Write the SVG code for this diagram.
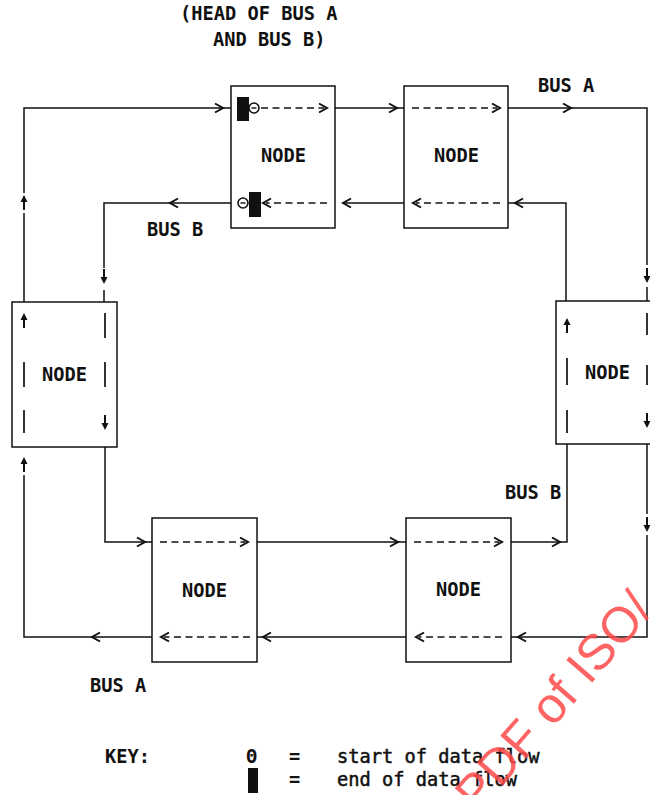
<svg xmlns="http://www.w3.org/2000/svg" xmlns:xlink="http://www.w3.org/1999/xlink" width="650" height="795" viewBox="0 0 650 795">
<style>
.box{fill:#fff;stroke:#111;stroke-width:1.5}
.ln{fill:none;stroke:#111;stroke-width:1.5}
.dash{fill:none;stroke:#111;stroke-width:1.7;stroke-dasharray:7 4.5}
.vdash{fill:none;stroke:#111;stroke-width:1.7}
.chev{fill:none;stroke:#111;stroke-width:2;stroke-linejoin:miter}
.t{font-family:"DejaVu Sans Mono","Liberation Mono",monospace;font-size:18.7px;font-weight:bold;fill:#111}
.k{font-family:"DejaVu Sans Mono","Liberation Mono",monospace;font-size:18.7px;fill:#111;stroke:#111;stroke-width:0.5}
.wm{font-family:"Liberation Sans",Arial,sans-serif;font-size:50px;fill:#ff4a4a;opacity:0.85}
</style>
<defs>
<path id="chR" class="chev" d="M-8,-4.5 L0,0 L-8,4.5"/>
<path id="chL" class="chev" d="M8,-4.5 L0,0 L8,4.5"/>
<g id="arU"><path d="M0,0 L-3.5,7 L3.5,7 Z" fill="#111"/><path d="M0,6 V15" stroke="#111" stroke-width="2"/></g>
<g id="arD"><path d="M0,0 L-3.5,-7 L3.5,-7 Z" fill="#111"/><path d="M0,-6 V-15" stroke="#111" stroke-width="2"/></g>
<g id="theta"><circle cx="0" cy="0" r="5" fill="#fff" stroke="#111" stroke-width="1.6"/><path d="M-2.5,0 H2.5" stroke="#111" stroke-width="1.4"/></g>
</defs>

<text class="t" x="180" y="20">(HEAD OF BUS A</text>
<text class="t" x="213" y="46">AND BUS B)</text>

<g id="connectors">
<!-- Bus A -->
<path class="ln" d="M24,302 V213 M24,193 V108 H237"/>
<path class="ln" d="M335,108 H404"/>
<path class="ln" d="M508,108 H647 V265"/>
<path class="ln" d="M647,287 V301"/>
<path class="ln" d="M647,444 V514 M647,535 V637 H511"/>
<path class="ln" d="M406,637 H257"/>
<path class="ln" d="M152,637 H24 V475"/>
<use xlink:href="#chR" x="223" y="108"/>
<use xlink:href="#chR" x="397" y="108"/>
<use xlink:href="#chR" x="571" y="108"/>
<use xlink:href="#chL" x="518" y="637"/>
<use xlink:href="#chL" x="263" y="637"/>
<use xlink:href="#chL" x="92" y="637"/>
<use xlink:href="#arU" x="24" y="195"/>
<use xlink:href="#arU" x="24" y="457"/>
<use xlink:href="#arD" x="647" y="283"/>
<use xlink:href="#arD" x="647" y="532"/>
<!-- Bus B -->
<path class="ln" d="M238,203 H104 V268"/>
<path class="ln" d="M104,290 V302"/>
<path class="ln" d="M105,447 V542 H152"/>
<path class="ln" d="M257,542 H406"/>
<path class="ln" d="M511,542 H567 V444"/>
<path class="ln" d="M566,301 V203 H508"/>
<path class="ln" d="M404,203 H343"/>
<use xlink:href="#chL" x="170" y="203"/>
<use xlink:href="#chL" x="343" y="203"/>
<use xlink:href="#chL" x="515" y="203"/>
<use xlink:href="#chR" x="145" y="542"/>
<use xlink:href="#chR" x="398" y="542"/>
<use xlink:href="#chR" x="560" y="542"/>
<use xlink:href="#arD" x="104" y="284"/>
</g>

<g id="node-top-left">
<rect class="box" x="231" y="86" width="104" height="142"/>
<rect x="237" y="97" width="12" height="24" fill="#111"/>
<use xlink:href="#theta" x="254" y="108"/>
<path class="dash" d="M261,108 H324"/>
<use xlink:href="#chR" x="327" y="108"/>
<path class="dash" d="M327,203 H266"/>
<use xlink:href="#chL" x="263" y="203"/>
<rect x="249" y="192" width="12" height="25" fill="#111"/>
<use xlink:href="#theta" x="243" y="203"/>
<text class="t" x="261" y="162">NODE</text>
</g>

<g id="node-top-right">
<rect class="box" x="404" y="86" width="104" height="142"/>
<path class="dash" d="M412,108 H497"/>
<use xlink:href="#chR" x="500" y="108"/>
<path class="dash" d="M500,203 H416"/>
<use xlink:href="#chL" x="413" y="203"/>
<text class="t" x="434" y="162">NODE</text>
</g>

<g id="node-left">
<rect class="box" x="12" y="302" width="105" height="145"/>
<use xlink:href="#arU" x="24" y="313"/>
<path class="vdash" d="M24,362 V387 M24,410 V433"/>
<path class="vdash" d="M105,313 V338 M105,362 V387"/>
<use xlink:href="#arD" x="105" y="430"/>
<text class="t" x="42" y="381">NODE</text>
</g>

<g id="node-right">
<rect class="box" x="556" y="301" width="104" height="143"/>
<use xlink:href="#arU" x="567" y="318"/>
<path class="vdash" d="M567,358 V385 M567,410 V433"/>
<path class="vdash" d="M647,313 V335 M647,365 V385"/>
<use xlink:href="#arD" x="647" y="428"/>
<text class="t" x="585" y="379">NODE</text>
</g>

<g id="node-bottom-left">
<rect class="box" x="152" y="518" width="105" height="144"/>
<path class="dash" d="M160,542 H245"/>
<use xlink:href="#chR" x="248" y="542"/>
<path class="dash" d="M250,637 H164"/>
<use xlink:href="#chL" x="161" y="637"/>
<text class="t" x="182" y="597">NODE</text>
</g>

<g id="node-bottom-right">
<rect class="box" x="406" y="518" width="105" height="144"/>
<path class="dash" d="M414,542 H499"/>
<use xlink:href="#chR" x="502" y="542"/>
<path class="dash" d="M502,637 H419"/>
<use xlink:href="#chL" x="416" y="637"/>
<text class="t" x="436" y="596">NODE</text>
</g>

<text class="t" x="538" y="92">BUS A</text>
<text class="t" x="147" y="236">BUS B</text>
<text class="t" x="505" y="499">BUS B</text>
<text class="t" x="90" y="692">BUS A</text>

<g id="key">
<text class="t" x="105" y="763">KEY:</text>
<text class="t" x="246" y="763">Θ</text>
<text class="t" x="289" y="763">=</text>
<text class="k" x="337" y="763">start of data flow</text>
<rect x="248" y="768" width="10" height="25" fill="#111"/>
<text class="t" x="289" y="786">=</text>
<text class="k" x="337" y="786">end of data flow</text>
</g>

<text class="wm" transform="translate(478,814) rotate(-49)">PDF of ISO/</text>
</svg>
